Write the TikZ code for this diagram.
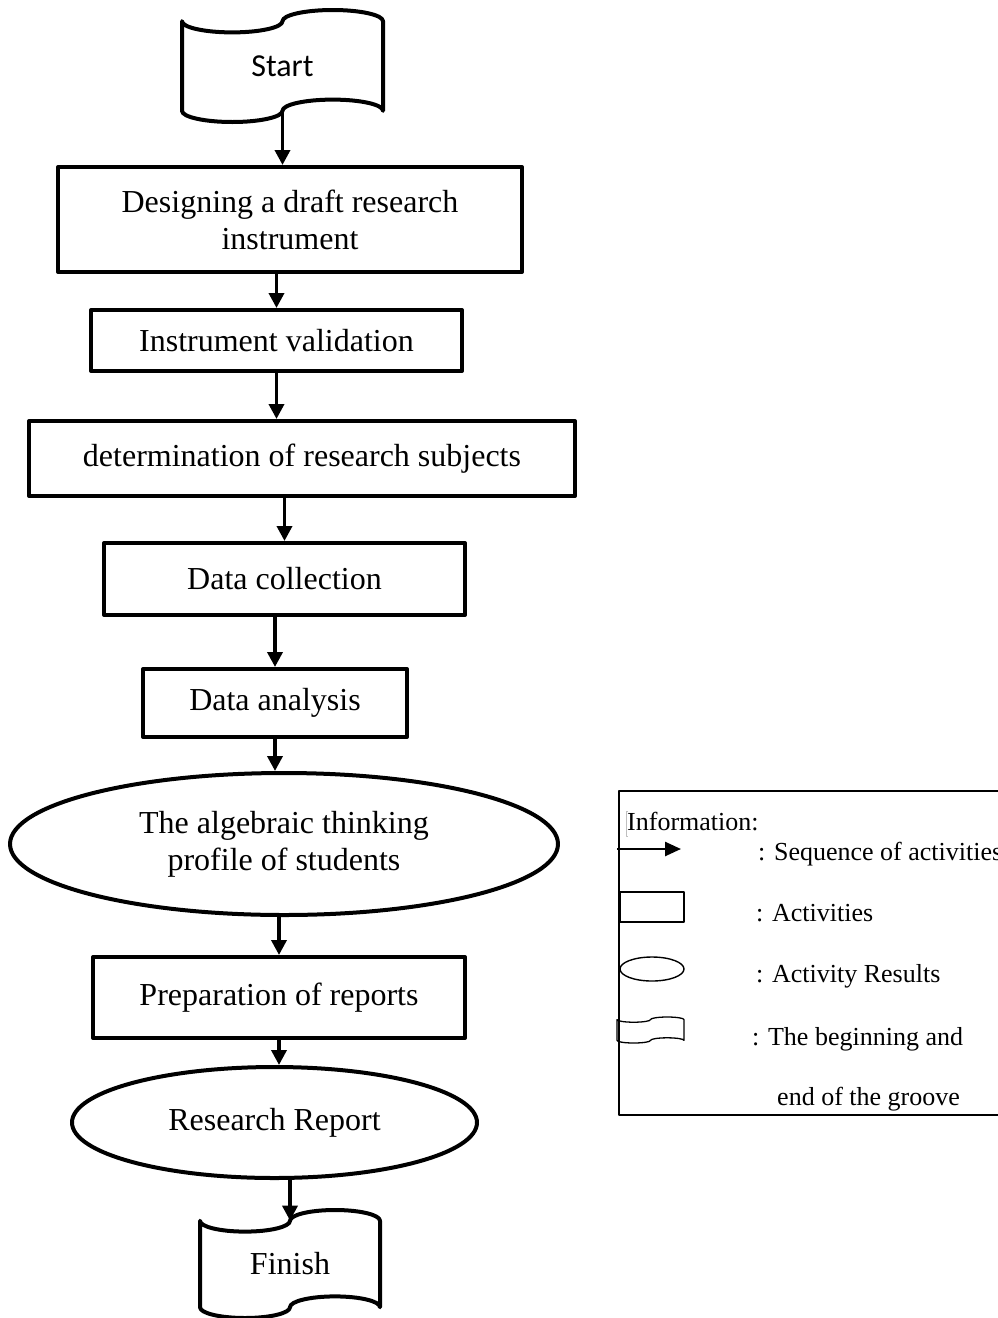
\documentclass[tikz,border=0pt]{standalone}
\usepackage{fontspec}
\setmainfont{Liberation Serif}
\newfontfamily\startfont{Carlito}
\usetikzlibrary{arrows.meta, shapes.geometric, calc}

\tikzset{
	% punched tape outline, #1 = width, #2 = height (wave to wave)
	pics/tapeoutline/.style 2 args={code={
		\draw (-#1/2,0.4*#2) arc[start angle=180, end angle=360, x radius=#1/4, y radius=#2/10]
		arc[start angle=180, end angle=0, x radius=#1/4, y radius=#2/10]
		-- (#1/2,-0.4*#2)
		arc[start angle=0, end angle=180, x radius=#1/4, y radius=#2/10]
		arc[start angle=0, end angle=-180, x radius=#1/4, y radius=#2/10]
		-- cycle;
	}},
	activity/.style={draw, rectangle, line width=4pt, inner sep=0pt, align=center,
		font=\fontsize{32}{37}\selectfont},
	result/.style={draw, ellipse, line width=4pt, inner sep=0pt, align=center,
		font=\fontsize{32}{37}\selectfont},
	tapetext/.style={inner sep=0pt, font=\fontsize{32}{37}\selectfont},
	flow/.style={->, line width=3.6pt},
	legendtext/.style={anchor=base west, inner sep=0pt, font=\fontsize{26}{30}\selectfont}
}

\begin{document}
\begin{tikzpicture}[x=1pt, y=1pt, >={Triangle[length=15pt,width=15pt]}, line join=round]
\useasboundingbox (0,0) rectangle (998,-1318);
\clip (0,0) rectangle (998,-1318);
%========================
% Flow chart
%========================
\node[tapetext, font=\startfont\fontsize{32}{37}\selectfont, minimum width=201, minimum height=89.6] (start) at (282.5,-66) {Start};
\pic[line width=4pt] at (start.center) {tapeoutline={201}{112}};

\node[activity, minimum width=464, minimum height=105] (design) at (290,-219.5) {Designing a draft research\\instrument};
\node[activity, minimum width=371, minimum height=61] (validation) at (276.5,-340.5) {Instrument validation};
\node[activity, minimum width=546, minimum height=75] (subjects) at (302,-458.5) {determination of research subjects};
\node[activity, minimum width=361, minimum height=72] (collection) at (284.5,-579) {Data collection};
\node[activity, minimum width=264, minimum height=68] (analysis) at (275,-703) {Data analysis};
\node[result, minimum width=548, minimum height=142] (profile) at (284,-844) {The algebraic thinking\\profile of students};
\node[activity, minimum width=372, minimum height=81] (reports) at (279,-997.5) {Preparation of reports};
\node[result, minimum width=405, minimum height=111] (report) at (274.5,-1122.5) {Research Report};

\node[tapetext, minimum width=180, minimum height=86.4] (finish) at (290,-1264) {Finish};
\pic[line width=4pt] at (finish.center) {tapeoutline={180}{108}};

% sequence of activities
\draw[flow] (start.south) -- (start.south |- design.north);
\draw[flow] (validation.north |- design.south) -- (validation.north);
\draw[flow] (validation.south) -- (validation.south |- subjects.north);
\draw[flow] (collection.north |- subjects.south) -- (collection.north);
\draw[flow] (analysis.north |- collection.south) -- (analysis.north);
\draw[flow] (analysis.south) -- (analysis.south |- profile.north);
\draw[flow] (reports.north |- profile.south) -- (reports.north);
\draw[flow] (reports.south) -- (reports.south |- report.north);
\draw[flow] (finish.north |- report.south) -- (finish.north);

%========================
% Legend
%========================
\draw[line width=2pt] (619,-791) rectangle (1010,-1115);
\draw[gray!50, line width=0.7pt] (628,-811) -- (626,-811) -- (626,-836) -- (628,-836);
\node[legendtext] (infotitle) at (627,-830) {Information:};

\coordinate (seqtail) at (617,-849);
\coordinate (seqhead) at (681,-849);
\draw[->, line width=2.5pt, >={Triangle[length=16pt,width=14pt]}] (seqtail) -- (seqhead);
\node[legendtext] (seqlabel) at (758,-860.5) {: Sequence of activities};

\draw[line width=1.7pt] (620,-892) rectangle (684,-922);
\node[legendtext] (actlabel) at (756,-921.5) {: Activities};

\draw[line width=1.4pt] (652,-969) ellipse [x radius=32, y radius=12];
\node[legendtext] (reslabel) at (756,-982.5) {: Activity Results};

\pic[line width=1.3pt] at (650.5,-1030) {tapeoutline={67}{26}};
\node[legendtext] (tapelabel) at (752,-1045) {: The beginning and};
\node[legendtext] (tapelabelb) at (777,-1105) {end of the groove};
\end{tikzpicture}
\end{document}
